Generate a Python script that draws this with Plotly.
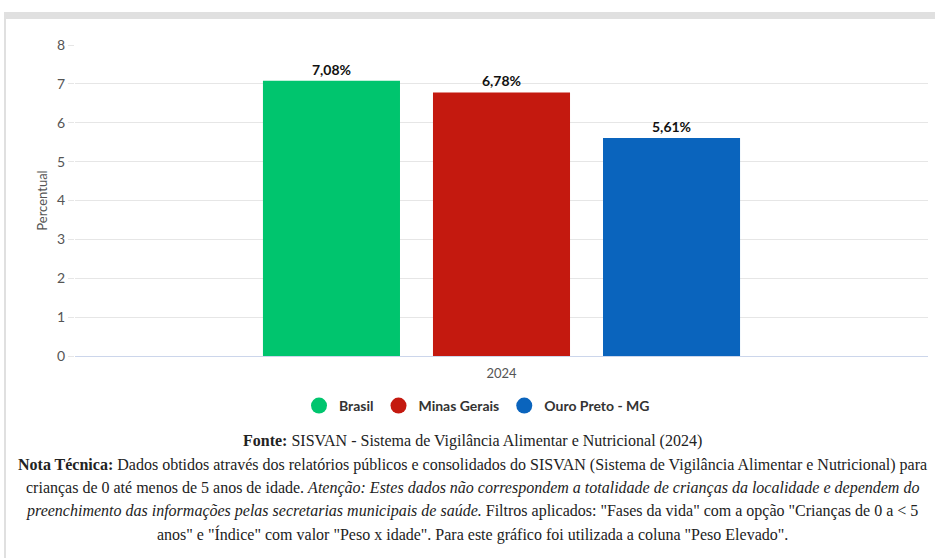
import plotly.graph_objects as go

# ---- data ----
categories = ["2024"]
series_names = ["Brasil", "Minas Gerais", "Ouro Preto - MG"]
series_values = [[7.08], [6.78], [5.61]]
series_colors = ["#00c56e", "#c4190f", "#0a64bd"]
y_ticks = [0, 1, 2, 3, 4, 5, 6, 7, 8]

W, H = 935, 558
ML, MR, MT, MB = 75, 7, 45, 202
PH = H - MT - MB
PW = W - ML - MR

def py(ypx):
    return (H - MB - ypx) / PH

def px(xpx):
    return (xpx - ML) / PW

fig = go.Figure()
for name, vals, col in zip(series_names, series_values, series_colors):
    fig.add_trace(go.Bar(
        x=categories, y=vals, name=name, marker_color=col, marker_line_width=0,
        texttemplate="<b>%{y:.2f}%</b>", textposition="outside",
        textfont=dict(family="Lato, sans-serif", size=14, color="#111"),
        cliponaxis=False, showlegend=False,
    ))
    fig.add_trace(go.Scatter(
        x=[None], y=[None], mode="markers", name="<b>" + name + "</b>",
        marker=dict(symbol="circle", size=16, color=col),
    ))

footer = [
    "<b>Fonte:</b> SISVAN - Sistema de Vigilância Alimentar e Nutricional (2024)",
    "<b>Nota Técnica:</b> Dados obtidos através dos relatórios públicos e consolidados do SISVAN (Sistema de Vigilância Alimentar e Nutricional) para",
    "crianças de 0 até menos de 5 anos de idade. <i>Atenção: Estes dados não correspondem a totalidade de crianças da localidade e dependem do</i>",
    "<i>preenchimento das informações pelas secretarias municipais de saúde.</i> Filtros aplicados: \"Fases da vida\" com a opção \"Crianças de 0 a &lt; 5",
    "anos\" e \"Índice\" com valor \"Peso x idade\". Para este gráfico foi utilizada a coluna \"Peso Elevado\".",
]
footer_y = [441, 465, 488, 511, 534]
annotations = []
for t, ypx in zip(footer, footer_y):
    annotations.append(dict(
        text=t, xref="paper", yref="paper", x=px(472), y=py(ypx),
        xanchor="center", yanchor="middle", showarrow=False,
        font=dict(family="Liberation Serif, serif", size=16, color="#222"),
    ))

fig.update_layout(
    width=W, height=H,
    margin=dict(l=ML, r=MR, t=MT, b=MB, pad=0),
    paper_bgcolor="white", plot_bgcolor="white",
    barmode="group", bargap=0.402, bargroupgap=0.194,
    separators=",.",
    font=dict(family="Lato, sans-serif", color="#666"),
    xaxis=dict(showline=True, linecolor="#ccd6eb", linewidth=1,
               ticks="outside", ticklen=5, tickcolor="rgba(0,0,0,0)",
               tickfont=dict(size=13, color="#555"), showgrid=False),
    yaxis=dict(range=[0, 8], tickvals=y_ticks, showgrid=True, gridcolor="#e6e6e6",
               zeroline=False, ticks="outside", ticklen=6, tickcolor="#e6e6e6",
               tickfont=dict(size=14, color="#555"),
               title=dict(text="Percentual", font=dict(size=13, color="#555"), standoff=6)),
    legend=dict(orientation="h", x=px(477), xanchor="center",
                y=py(406), yanchor="middle",
                font=dict(size=14, color="#333", family="Lato, sans-serif"),
                itemwidth=30, tracegroupgap=0),
    annotations=annotations,
    shapes=[
        dict(type="rect", xref="paper", yref="paper",
             x0=px(4), x1=px(W), y0=py(19), y1=py(12),
             fillcolor="#e0e0e0", line_width=0, layer="below"),
        dict(type="rect", xref="paper", yref="paper",
             x0=px(4), x1=px(6), y0=py(H), y1=py(12),
             fillcolor="#e0e0e0", line_width=0, layer="below"),
    ],
)
fig.write_html("out.html")
